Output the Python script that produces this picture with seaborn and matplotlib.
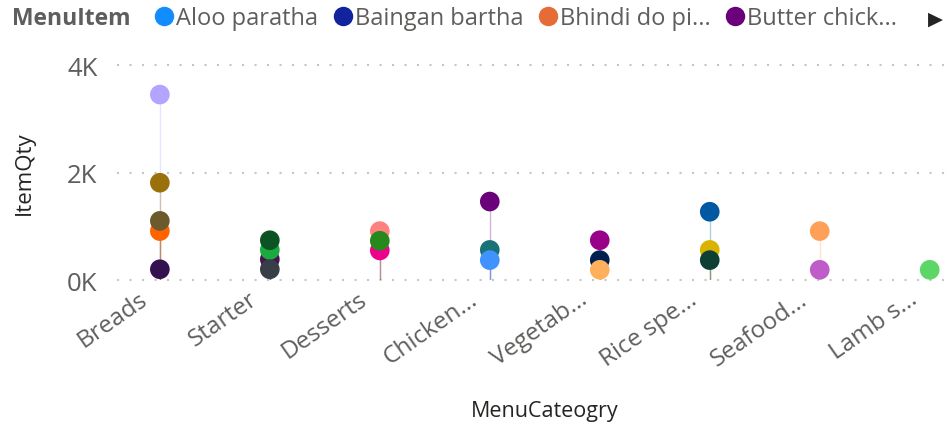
import pandas as pd
import matplotlib.pyplot as plt
import matplotlib.transforms as mtransforms
import seaborn as sns
from matplotlib.lines import Line2D

# categories on the x axis (as shown, truncated by the visual)
categories = ["Breads", "Starter", "Desserts", "Chicken...", "Vegetab...",
              "Rice spe...", "Seafood...", "Lamb s..."]

# one entry per visible point, in drawing order
point_cat = ["Breads", "Breads", "Breads", "Breads", "Breads",
             "Starter", "Starter", "Starter", "Starter",
             "Desserts", "Desserts", "Desserts",
             "Chicken...", "Chicken...", "Chicken...",
             "Vegetab...", "Vegetab...", "Vegetab...",
             "Rice spe...", "Rice spe...", "Rice spe...",
             "Seafood...", "Seafood...",
             "Lamb s..."]
point_qty = [3450, 1810, 910, 1100, 200,
             385, 560, 740, 200,
             910, 550, 730,
             1460, 560, 370,
             740, 370, 190,
             1270, 560, 370,
             910, 190,
             190]
point_color = ["#B4A3FF", "#9A700A", "#FF6300", "#6C5A2C", "#34124F",
               "#4A1150", "#1AAB40", "#0B5323", "#373E48",
               "#FF8080", "#EC008C", "#25891C",
               "#6B007B", "#197278", "#4092FF",
               "#99008A", "#002050", "#FFB05C",
               "#0057A2", "#D9B300", "#0E3F35",
               "#FFA058", "#BE5DC9",
               "#5BD667"]

# legend (only the first four items fit)
legend_items = ["Aloo paratha", "Baingan bartha", "Bhindi do pi...", "Butter chick..."]
legend_colors = ["#118DFF", "#12239E", "#E66C37", "#6B007B"]

y_ticks = [0, 2000, 4000]
y_tick_labels = ["0K", "2K", "4K"]

df = pd.DataFrame({"MenuCateogry": point_cat, "ItemQty": point_qty, "color": point_color})
df["x"] = df["MenuCateogry"].map({c: i for i, c in enumerate(categories)})

sns.set_style("white")
plt.rcParams['font.family'] = ['Open Sans', 'DejaVu Sans']

fig = plt.figure(figsize=(9.47, 4.27), dpi=100)
ax = fig.add_axes([0.1235, 0.3419, 0.8745, 0.5035])

# faint stems from each point down to the axis
ax.vlines(df["x"], 0, df["ItemQty"], colors=df["color"], alpha=0.3, linewidth=1, zorder=1)

sns.scatterplot(data=df, x="x", y="ItemQty", hue="color",
                palette={c: c for c in point_color}, s=200, linewidth=0,
                legend=False, ax=ax, zorder=3, clip_on=False)

ax.set_xlim(-0.39, 7.14)
ax.set_ylim(0, 4000)
ax.set_xticks(range(len(categories)))
ax.set_xticklabels([])
# rotated category labels, ending just left of each category
lbl_tr = ax.get_xaxis_transform() + mtransforms.ScaledTranslation(-0.22, -0.07, fig.dpi_scale_trans)
for i, c in enumerate(categories):
    ax.text(i, 0, c, transform=lbl_tr, rotation=35, ha="right", va="top",
            rotation_mode="anchor", fontsize=17.5, color="#605E5C")

ax.set_yticks(y_ticks)
ax.set_yticklabels(y_tick_labels, fontsize=18.5, color="#605E5C")
ax.tick_params(axis="both", length=0)
ax.tick_params(axis="y", pad=14)

for v in y_ticks:
    ax.axhline(v, color="#C8C6C4", linewidth=1.5, linestyle=(0, (1, 5)), zorder=0, clip_on=False)
for s in ax.spines.values():
    s.set_visible(False)

ax.set_xlabel("")
ax.set_ylabel("")
fig.text(545 / 947, 1 - 412 / 427, "MenuCateogry", fontsize=15.5, color="#252423",
         ha="center", va="center")
fig.text(24 / 947, 1 - 173 / 427, "ItemQty", fontsize=16, color="#252423",
         ha="center", va="center", rotation=90)

# legend across the top
fig.text(0.013, 0.955, "MenuItem", fontsize=16.5, fontweight="bold", color="#605E5C", va="center")
handles = [Line2D([], [], marker="o", linestyle="", markersize=14, markerfacecolor=c,
                  markeredgewidth=0) for c in legend_colors]
fig.legend(handles, legend_items, loc="center left", bbox_to_anchor=(0.151, 0.955),
           ncol=4, frameon=False, fontsize=17, handletextpad=0.0, columnspacing=0.55,
           handlelength=1.0, borderaxespad=0, labelcolor="#605E5C")
fig.text(0.988, 0.955, "\u25B6", fontsize=14, color="#252423", va="center", ha="center")

fig.savefig("out.png", dpi=100)
